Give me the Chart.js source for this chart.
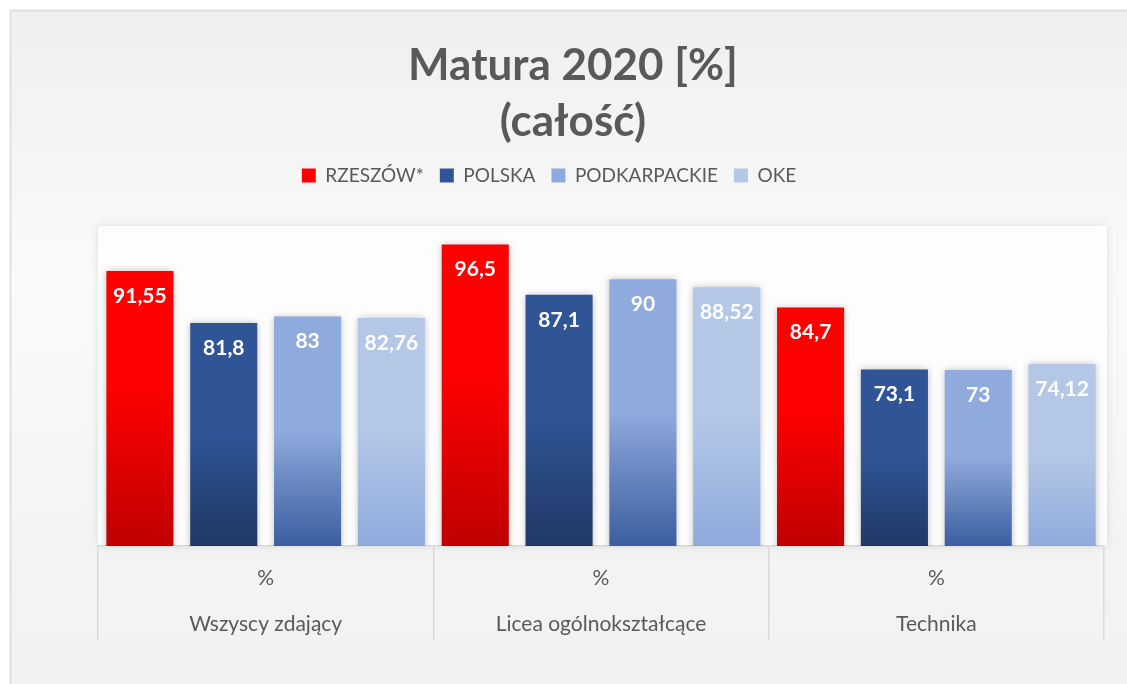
<!DOCTYPE html>
<html>
<head>
<meta charset="utf-8">
<script src="https://cdn.jsdelivr.net/npm/chart.js@4.4.1/dist/chart.umd.min.js"></script>
<style>
  html, body { margin: 0; padding: 0; background: #ffffff; }
  #wrap { width: 1127px; height: 684px; position: relative; }
</style>
</head>
<body>
<div id="wrap"><canvas id="c"></canvas></div>
<script>
// ---- data ----
const titleLines = ['Matura 2020 [%]', '(całość)'];
const groupUnits = ['%', '%', '%'];
const categories = ['Wszyscy zdający', 'Licea ogólnokształcące', 'Technika'];
const seriesNames = ['RZESZÓW*', 'POLSKA', 'PODKARPACKIE', 'OKE'];
const rzeszow = [91.55, 96.5, 84.7];
const polska = [81.8, 87.1, 73.1];
const podkarpackie = [83, 90, 73];
const oke = [82.76, 88.52, 74.12];
const yMin = 40;
const yMax = 105.8;

// ---- styles ----
const topColors = ['#ff0000', '#2f5597', '#8faadc', '#b4c7e7'];
const bottomColors = ['#c00000', '#203864', '#3a5ea0', '#8faadc'];
const gradStops = [0.42, 0.48, 0.5, 0.5];
const FONT = 'Lato, "Open Sans", sans-serif';
const TITLE_CENTER_X = 573;
const LEGEND_CENTER_X = 549;

function barGradient(i) {
  return function (ctx) {
    if (ctx.type !== 'data') return topColors[i];
    const chart = ctx.chart;
    const ys = chart.scales.y;
    if (!ys) return topColors[i];
    const yTop = ys.getPixelForValue(ctx.raw);
    const yBot = ys.getPixelForValue(yMin);
    if (!isFinite(yTop) || !isFinite(yBot) || yBot <= yTop) return topColors[i];
    const g = chart.ctx.createLinearGradient(0, yTop, 0, yBot);
    g.addColorStop(0, topColors[i]);
    g.addColorStop(gradStops[i], topColors[i]);
    g.addColorStop(1, bottomColors[i]);
    return g;
  };
}

const seriesValues = [rzeszow, polska, podkarpackie, oke];
const datasets = seriesNames.map((name, i) => ({
  label: name,
  data: seriesValues[i],
  backgroundColor: barGradient(i),
  borderWidth: 0,
  categoryPercentage: 1.0,
  barPercentage: 0.8
}));

function shiftBox(box, center) {
  if (!box) return;
  const dx = center - (box.left + box.right) / 2;
  box.left += dx;
  box.right += dx;
}

const headerShiftPlugin = {
  id: 'headerShift',
  afterLayout(chart) {
    shiftBox(chart.titleBlock, TITLE_CENTER_X);
    shiftBox(chart.legend, LEGEND_CENTER_X);
  }
};

const backgroundPlugin = {
  id: 'bg',
  beforeDraw(chart) {
    const c = chart.ctx;
    const W = chart.width, H = chart.height;
    c.save();
    c.fillStyle = '#ffffff';
    c.fillRect(0, 0, W, H);
    const g = c.createLinearGradient(0, 10, 0, H);
    g.addColorStop(0, '#efefef');
    g.addColorStop(0.4, '#fafafa');
    g.addColorStop(1, '#f1f1f1');
    c.fillStyle = g;
    c.fillRect(10, 10, W, H);
    c.strokeStyle = '#d9d9d9';
    c.lineWidth = 1.5;
    c.strokeRect(10.5, 10.5, W + 10, H + 10);
    // plot area fill
    const a = chart.chartArea;
    const ys = chart.scales.y;
    const top = ys.getPixelForValue(100);
    c.shadowColor = 'rgba(0,0,0,0.10)';
    c.shadowBlur = 8;
    c.fillStyle = '#fdfdfd';
    c.fillRect(a.left, top, a.right - a.left + 3, a.bottom - top);
    c.restore();
  }
};

const shadowPlugin = {
  id: 'barShadow',
  beforeDatasetDraw(chart) {
    const c = chart.ctx;
    c.save();
    c.shadowColor = 'rgba(0,0,0,0.28)';
    c.shadowBlur = 7;
    c.shadowOffsetX = 0;
    c.shadowOffsetY = 0;
  },
  afterDatasetDraw(chart) {
    chart.ctx.restore();
  }
};

const valueLabelPlugin = {
  id: 'valueLabels',
  afterDatasetsDraw(chart) {
    const c = chart.ctx;
    c.save();
    c.fillStyle = '#ffffff';
    c.font = 'bold 21px ' + FONT;
    c.textAlign = 'center';
    c.textBaseline = 'middle';
    chart.data.datasets.forEach((ds, di) => {
      const meta = chart.getDatasetMeta(di);
      meta.data.forEach((el, i) => {
        const txt = String(ds.data[i]).replace('.', ',');
        c.fillText(txt, el.x, el.y + 25);
      });
    });
    c.restore();
  }
};

new Chart(document.getElementById('c'), {
  type: 'bar',
  data: {
    labels: categories.map((cat, i) => [groupUnits[i], cat]),
    datasets: datasets
  },
  options: {
    responsive: true,
    maintainAspectRatio: false,
    animation: false,
    layout: { padding: { left: 98, right: 23, top: 0, bottom: 0 } },
    plugins: {
      title: {
        display: true,
        text: titleLines,
        color: '#595959',
        font: { family: FONT, size: 44, weight: 'bold', lineHeight: 56 / 44 },
        padding: { top: 38, bottom: 0 }
      },
      legend: {
        display: true,
        position: 'top',
        labels: {
          color: '#595959',
          font: { family: FONT, size: 19 },
          boxWidth: 14,
          boxHeight: 14,
          padding: 16
        }
      },
      tooltip: { enabled: false }
    },
    scales: {
      x: {
        grid: {
          display: true,
          offset: true,
          drawOnChartArea: false,
          drawTicks: true,
          tickLength: 94,
          color: '#d9d9d9',
          lineWidth: 1.5
        },
        border: { display: true, color: '#d9d9d9', width: 1.5 },
        ticks: {
          color: '#595959',
          font: { family: FONT, size: 21, lineHeight: 46 / 21 },
          padding: -85,
          autoSkip: false,
          maxRotation: 0
        },
        afterFit(scale) { scale.height = 138; }
      },
      y: {
        display: false,
        min: yMin,
        max: yMax
      }
    }
  },
  plugins: [backgroundPlugin, headerShiftPlugin, shadowPlugin, valueLabelPlugin]
});
</script>
</body>
</html>
